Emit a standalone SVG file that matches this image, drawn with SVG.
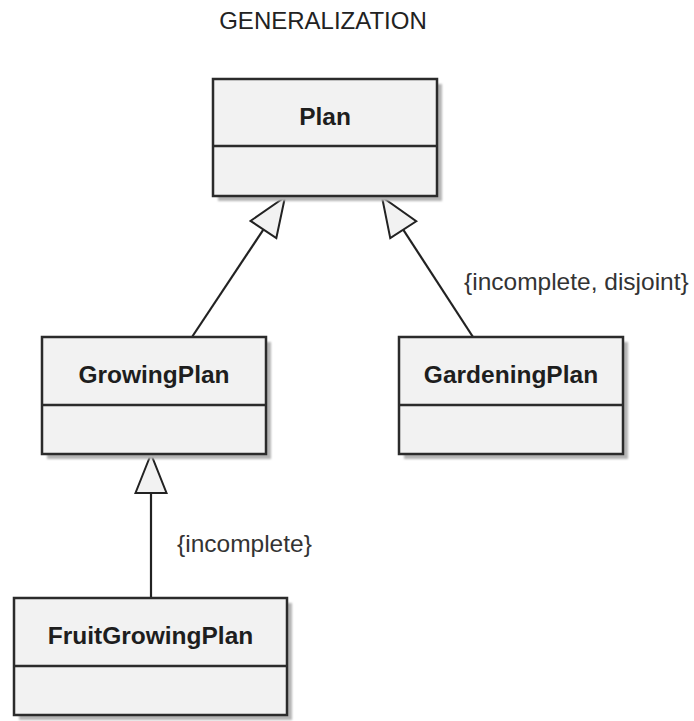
<svg xmlns="http://www.w3.org/2000/svg" width="694" height="721" viewBox="0 0 694 721">
  <style>
    .box { fill: #f2f2f2; stroke: #2b2b2b; stroke-width: 2.5; }
    .shadow { fill: #b4b4b4; filter: url(#soft); }
    .div { stroke: #2b2b2b; stroke-width: 2.5; }
    .name { font-family: "Liberation Sans", Arial, sans-serif; font-size: 24.5px; font-weight: bold; fill: #1e1e1e; text-anchor: middle; }
    .label { font-family: "Liberation Sans", Arial, sans-serif; font-size: 24.5px; fill: #333333; }
    .title { font-family: "Liberation Sans", Arial, sans-serif; font-size: 24px; fill: #222222; text-anchor: middle; }
    .edge { stroke: #222222; stroke-width: 2.2; fill: none; marker-end: url(#gen); }
  </style>
  <defs>
    <filter id="soft" x="-10%" y="-10%" width="120%" height="120%">
      <feGaussianBlur stdDeviation="1.2"/>
    </filter>
    <!-- hollow triangle for generalization -->
    <marker id="gen" markerUnits="userSpaceOnUse" viewBox="0 0 44 36" markerWidth="44" markerHeight="36" refX="41" refY="18" orient="auto">
      <path d="M41,18 L2,2.5 L2,33.5 Z" fill="#f2f2f2" stroke="#222222" stroke-width="2"/>
    </marker>
  </defs>

  <rect width="694" height="721" fill="#ffffff"/>

  <text class="title" x="323" y="29">GENERALIZATION</text>

  <g id="connectors">
    <path class="edge" d="M192,337 L285,197"/>
    <path class="edge" d="M473,337 L382,197"/>
    <path class="edge" d="M151,598 L151,454"/>
  </g>

  <g id="plan">
    <rect class="shadow" x="218" y="84" width="224" height="117"/>
    <rect class="box" x="213" y="79" width="224" height="117"/>
    <line class="div" x1="213" y1="146" x2="437" y2="146"/>
    <text class="name" x="325" y="125">Plan</text>
  </g>

  <g id="growing-plan">
    <rect class="shadow" x="47" y="342" width="224" height="117"/>
    <rect class="box" x="42" y="337" width="224" height="117"/>
    <line class="div" x1="42" y1="405" x2="266" y2="405"/>
    <text class="name" x="154" y="383">GrowingPlan</text>
  </g>

  <g id="gardening-plan">
    <rect class="shadow" x="404" y="342" width="224" height="117"/>
    <rect class="box" x="399" y="337" width="224" height="117"/>
    <line class="div" x1="399" y1="405" x2="623" y2="405"/>
    <text class="name" x="511" y="383">GardeningPlan</text>
  </g>

  <g id="fruit-growing-plan">
    <rect class="shadow" x="19" y="603" width="273" height="117"/>
    <rect class="box" x="14" y="598" width="273" height="117"/>
    <line class="div" x1="14" y1="666" x2="287" y2="666"/>
    <text class="name" x="150.5" y="644">FruitGrowingPlan</text>
  </g>

  <g id="constraints">
    <text class="label" x="464" y="290">{incomplete, disjoint}</text>
    <text class="label" x="177" y="552">{incomplete}</text>
  </g>
</svg>
